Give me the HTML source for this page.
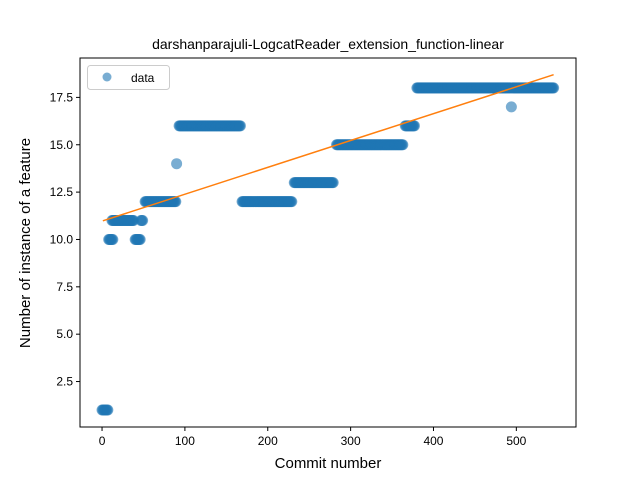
<!DOCTYPE html>
<html><head><meta charset="utf-8"><style>body{margin:0;background:#fff}svg{display:block;font-family:"Liberation Sans","DejaVu Sans",sans-serif}</style></head>
<body>
<svg id="chart" width="640" height="480"></svg>
<script>
const runStart=[0,8,12,40,47,52,90,93,169,232,283,366,380,494,495];
const runEnd=[7,13,38,46,49,89,90,167,229,279,363,377,493,494,545];
const runValue=[1,10,11,10,11,12,14,16,12,13,15,16,18,17,18];
const fitIntercept=10.97, fitSlope=0.01418, fitX0=1, fitX1=545;
const xTicks=[0,100,200,300,400,500];
const yTicks=[2.5,5.0,7.5,10.0,12.5,15.0,17.5];
const L=80,R=576,T=58,B=427,xmin=-26.6,xmax=572,ymin=0.1,ymax=19.58;
const X=v=>L+(v-xmin)/(xmax-xmin)*(R-L);
const Y=v=>B-(v-ymin)/(ymax-ymin)*(B-T);
const svg=document.getElementById('chart');const NS='http://www.w3.org/2000/svg';
function mk(t,a,p){const e=document.createElementNS(NS,t);for(const k in a)e.setAttribute(k,a[k]);(p||svg).appendChild(e);return e;}
const pts=mk('g',{});


for(let r=0;r<runStart.length;r++){for(let x=runStart[r];x<=runEnd[r];x++){const c=mk('circle',{cx:X(x),cy:Y(runValue[r]),r:5.5,fill:'#1f77b4','fill-opacity':0.6},pts);

}}
const ln=mk('line',{x1:X(fitX0),y1:Y(fitIntercept+fitSlope*fitX0),x2:X(fitX1),y2:Y(fitIntercept+fitSlope*fitX1),stroke:'#ff7f0e','stroke-width':1.5});


const ax=mk('rect',{x:L,y:T,width:R-L,height:B-T,fill:'none',stroke:'#000','stroke-width':1});


xTicks.forEach(v=>{mk('line',{x1:X(v),x2:X(v),y1:B,y2:B+4,stroke:'#000'});const t=mk('text',{x:X(v),y:B+18,'text-anchor':'middle','font-size':12});t.textContent=v;

});
yTicks.forEach(v=>{mk('line',{x1:L-4,x2:L,y1:Y(v),y2:Y(v),stroke:'#000'});const t=mk('text',{x:L-7,y:Y(v)+4,'text-anchor':'end','font-size':12});t.textContent=v.toFixed(1);

});
</script>
<svg width="640" height="480" style="position:absolute;left:0;top:0">
<text x="328" y="49" text-anchor="middle" font-size="14">darshanparajuli-LogcatReader_extension_function-linear</text>
<text x="328" y="468" text-anchor="middle" font-size="15">Commit number</text>
<text x="30" y="243" text-anchor="middle" font-size="15" transform="rotate(-90 30 243)">Number of instance of a feature</text>
<g>
<rect x="87.5" y="65.5" width="82" height="24" rx="3" fill="#fff" fill-opacity="0.8" stroke="#ccc"/>
<circle cx="107" cy="77" r="4.5" fill="#1f77b4" fill-opacity="0.6"/>
<text x="131" y="82" font-size="12">data</text>
</g>
</svg>
</body></html>
